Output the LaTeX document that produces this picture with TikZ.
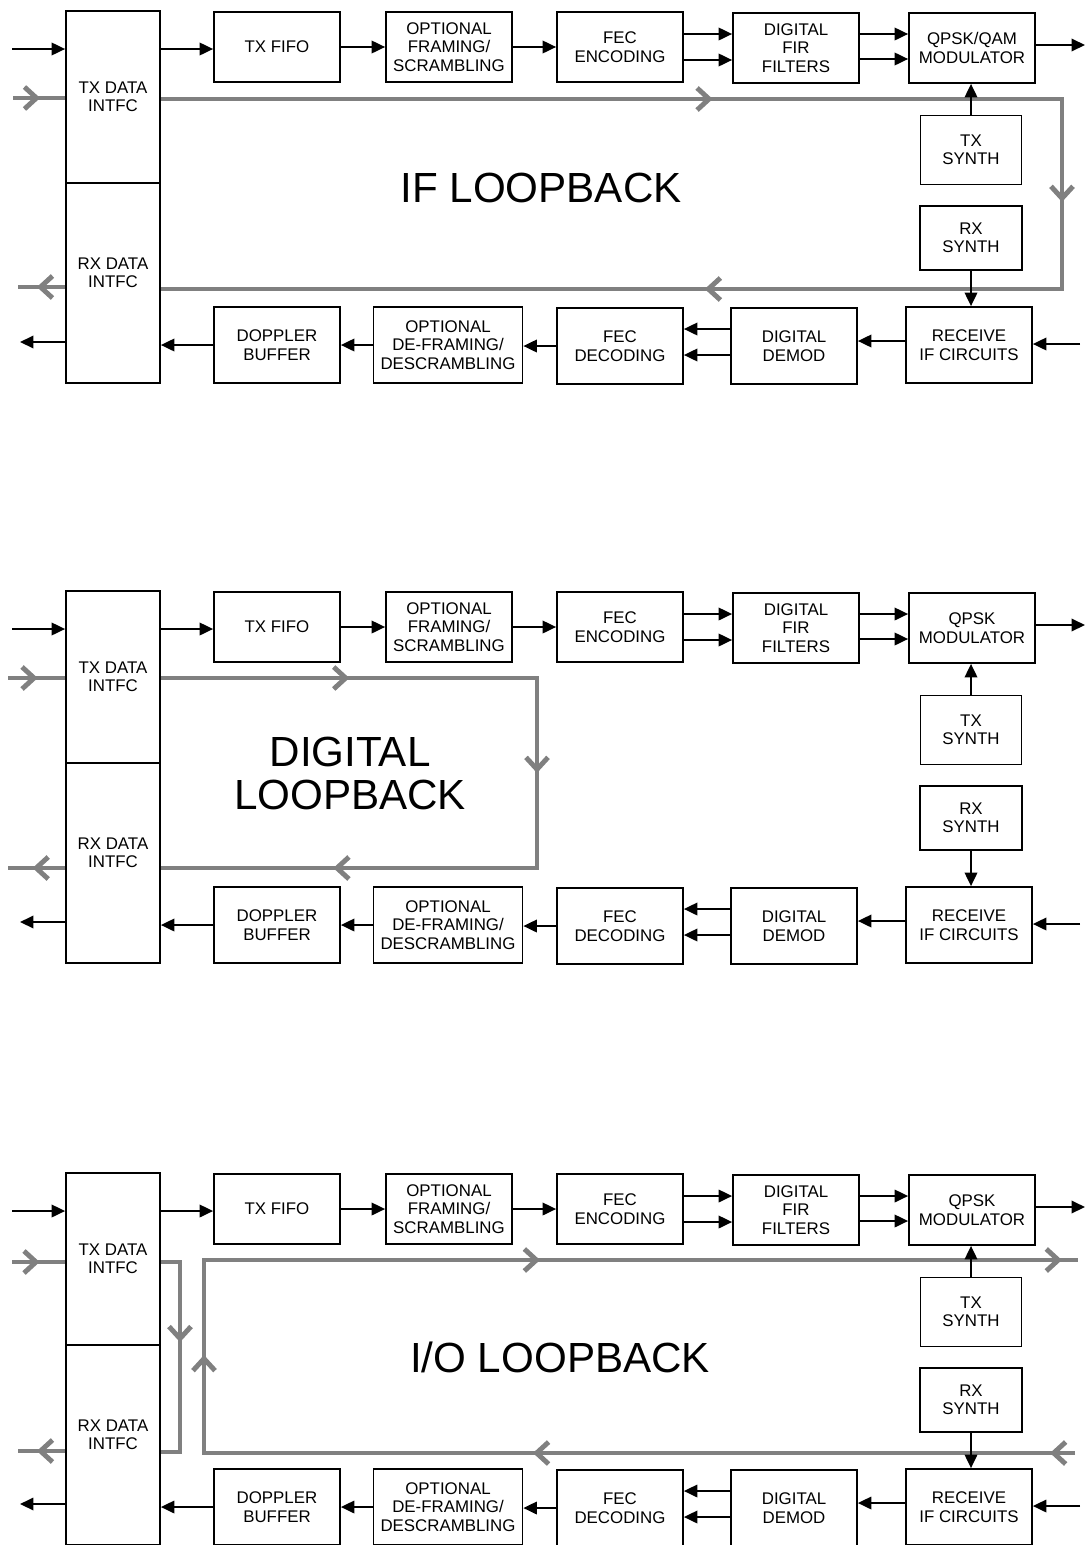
\documentclass[tikz,border=0pt]{standalone}
\usepackage{fontspec}
\setmainfont{Liberation Sans}
\usetikzlibrary{arrows.meta,decorations.markings,backgrounds}
\definecolor{loopgray}{RGB}{128,128,128}
\tikzset{
  blk/.style={draw, line width=1pt, minimum width=2.52cm, minimum height=1.4cm,
    inner sep=0pt, align=center, font=\fontsize{9.6}{10.5}\selectfont},
  blkb/.style={blk, minimum height=1.52cm},
  sig/.style={line width=1.1pt, -{Triangle[length=0.27cm,width=0.25cm]}},
  lpath/.style={draw=loopgray, line width=2.8pt},
  chev/.style={postaction={decorate, decoration={markings,
    mark=at position #1 with {\arrow[loopgray, line width=2.8pt]{Straight Barb[length=0.24cm,width=0.44cm]}}}}},
  biglbl/.style={font=\fontsize{24}{24.5}\selectfont, align=center}
}
\begin{document}
\begin{tikzpicture}[x=0.02cm, y=-0.02cm]
    % Fix the page to the size of the reference
    \useasboundingbox (0,0) rectangle (1088,1545);
    \clip (0,0) rectangle (1088,1545);
    % Draw the blocks and signal arrows of the three panels
    \foreach \p/\dy/\modtxt in {a/0/QPSK\slash QAM, b/580/QPSK, c/1162/QPSK} {
      \begin{scope}[shift={(0,\dy)}]
        % Data interface column
        \node[blk, minimum width=1.88cm, minimum height=3.44cm] (\p tx) at (113,97) {TX DATA\\INTFC};
        \node[blk, minimum width=1.88cm, minimum height=4cm] (\p rx) at (113,283) {};
        \node[align=center, font=\fontsize{9.6}{10.5}\selectfont] (\p rxt) at (113,273) {RX DATA\\INTFC};
        % Transmit row
        \node[blk] (\p fifo) at (277,47) {TX FIFO};
        \node[blk] (\p frm) at (449,47) {OPTIONAL\\FRAMING/\\SCRAMBLING};
        \node[blk] (\p fec) at (620,47) {FEC\\ENCODING};
        \node[blk] (\p fir) at (796,48) {DIGITAL\\FIR\\FILTERS};
        \node[blk] (\p mod) at (972,48) {\modtxt\\MODULATOR};
        % Synthesizers
        \node[blk, minimum width=2.02cm, minimum height=1.38cm] (\p txs) at (971,150) {TX\\SYNTH};
        \node[blk, minimum width=2.04cm, minimum height=1.28cm] (\p rxs) at (971,238) {RX\\SYNTH};
        % Receive row
        \node[blkb] (\p rcv) at (969,345) {RECEIVE\\IF CIRCUITS};
        \node[blkb] (\p dem) at (794,346) {DIGITAL\\DEMOD};
        \node[blkb] (\p dec) at (620,346) {FEC\\DECODING};
        \node[blkb, minimum width=2.98cm] (\p dfr) at (448,345) {OPTIONAL\\DE-FRAMING/\\DESCRAMBLING};
        \node[blkb] (\p dop) at (277,345) {DOPPLER\\BUFFER};
        % Free ends of the outside signals
        \coordinate (\p in) at (12,49);
        \coordinate (\p out) at (1085,45);
        \coordinate (\p rin) at (1080,344);
        \coordinate (\p rout) at (20,342);
        % Transmit arrows
        \draw[sig] (\p in) -- (\p in -| \p tx.west);
        \draw[sig] (\p in -| \p tx.east) -- (\p in -| \p fifo.west);
        \draw[sig] (\p fifo.east) -- (\p fifo.east -| \p frm.west);
        \draw[sig] (\p frm.east) -- (\p frm.east -| \p fec.west);
        \draw[sig] ([yshift=0.26cm]\p fec.east) -- ([yshift=0.26cm]\p fec.east -| \p fir.west);
        \draw[sig] ([yshift=-0.26cm]\p fec.east) -- ([yshift=-0.26cm]\p fec.east -| \p fir.west);
        \draw[sig] ([yshift=0.28cm]\p fir.east) -- ([yshift=0.28cm]\p fir.east -| \p mod.west);
        \draw[sig] ([yshift=-0.22cm]\p fir.east) -- ([yshift=-0.22cm]\p fir.east -| \p mod.west);
        \draw[sig] (\p out -| \p mod.east) -- (\p out);
        \draw[sig] (\p txs.north) -- (\p txs.north |- \p mod.south);
        \draw[sig] (\p rxs.south) -- (\p rxs.south |- \p rcv.north);
        % Receive arrows
        \draw[sig] (\p rin) -- (\p rin -| \p rcv.east);
        \draw[sig] ([yshift=0.08cm]\p rcv.west) -- ([yshift=0.08cm]\p rcv.west -| \p dem.east);
        \draw[sig] ([yshift=0.34cm]\p dem.west) -- ([yshift=0.34cm]\p dem.west -| \p dec.east);
        \draw[sig] ([yshift=-0.18cm]\p dem.west) -- ([yshift=-0.18cm]\p dem.west -| \p dec.east);
        \draw[sig] (\p dec.west) -- (\p dec.west -| \p dfr.east);
        \draw[sig] (\p dfr.west) -- (\p dfr.west -| \p dop.east);
        \draw[sig] (\p dop.west) -- (\p dop.west -| \p rx.east);
        \draw[sig] (\p rout -| \p rx.west) -- (\p rout);
      \end{scope}
    }
    % Loopback names
    \node[biglbl] (iflbl) at (541,188) {IF LOOPBACK};
    \node[biglbl] (diglbl) at (350,773) {DIGITAL\\LOOPBACK};
    \node[biglbl] (iolbl) at (560,1357) {I/O LOOPBACK};
    % Gray loopback paths, behind the arrows
    \begin{pgfonlayer}{background}
      % IF loopback
      \coordinate (ifin) at (13,98);
      \coordinate (ifne) at (1062,99);
      \coordinate (ifse) at (1062,289);
      \coordinate (ifout) at (18,287);
      \draw[lpath, chev=0.52] (ifin) -- (ifin -| atx.west);
      \draw[lpath, chev=0.277, chev=0.504, chev=0.727] (ifne -| atx.east) -- (ifne) -- (ifse) -- (ifse -| arx.east);
      \draw[lpath, chev=0.6] (ifout -| arx.west) -- (ifout);
      % Digital loopback
      \coordinate (digin) at (8,678);
      \coordinate (digne) at (537,678);
      \coordinate (digse) at (537,868);
      \coordinate (digout) at (8,868);
      \draw[lpath, chev=0.52] (digin) -- (digin -| btx.west);
      \draw[lpath, chev=0.2, chev=0.5, chev=0.817] (digne -| btx.east) -- (digne) -- (digse) -- (digse -| brx.east);
      \draw[lpath, chev=0.57] (digout -| brx.west) -- (digout);
      % I/O loopback
      \coordinate (ioin) at (12,1262);
      \coordinate (iono) at (180,1262);
      \coordinate (ioso) at (180,1452);
      \coordinate (ioout) at (18,1451);
      \draw[lpath, chev=0.52] (ioin) -- (ioin -| ctx.west);
      \draw[lpath, chev=0.435] (iono -| ctx.east) -- (iono) -- (ioso) -- (ioso -| crx.east);
      \draw[lpath, chev=0.6] (ioout -| crx.west) -- (ioout);
      \coordinate (lpse) at (1075,1453);
      \coordinate (lpsw) at (204,1453);
      \coordinate (lpnw) at (204,1260);
      \coordinate (lpne) at (1078,1260);
      \draw[lpath, chev=0.0129, chev=0.2797, chev=0.5, chev=0.7224, chev=0.9917] (lpse) -- (lpsw) -- (lpnw) -- (lpne);
    \end{pgfonlayer}
\end{tikzpicture}
\end{document}
